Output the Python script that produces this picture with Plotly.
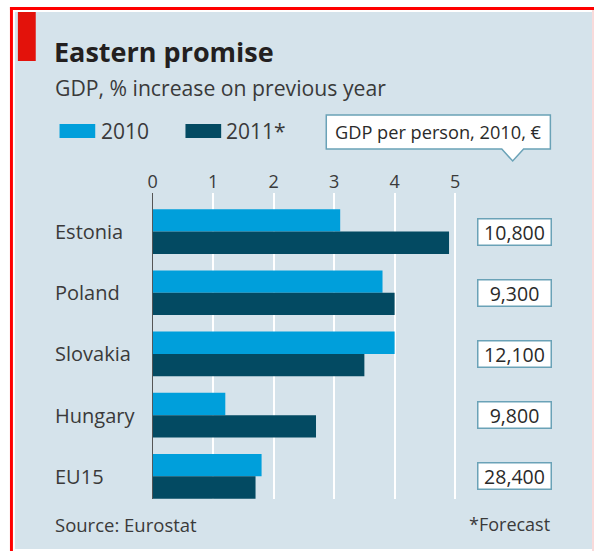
import plotly.graph_objects as go

W, H = 594, 551

countries = ["Estonia", "Poland", "Slovakia", "Hungary", "EU15"]
gdp_2010 = [3.1, 3.8, 4.0, 1.2, 1.8]
gdp_2011 = [4.9, 4.0, 3.5, 2.7, 1.7]
gdp_per_person = ["10,800", "9,300", "12,100", "9,800", "28,400"]
series_names = ["2010", "2011*"]
x_ticks = [0, 1, 2, 3, 4, 5]

title = "Eastern promise"
subtitle = "GDP, % increase on previous year"
callout = "GDP per person, 2010, €"
source = "Source: Eurostat"
note = "*Forecast"

C2010 = "#009fdb"
C2011 = "#034a62"
BG = "#d5e3eb"
TXT = "#3a3a3a"
BOX = "#6aa2b7"
FONT = "Open Sans"


def px(x):
    return x / W


def py(y):
    return 1 - y / H


fig = go.Figure()
fig.add_trace(go.Bar(y=countries, x=gdp_2010, name=series_names[0], orientation="h",
                     marker=dict(color=C2010, line=dict(width=0)), hoverinfo="x+y"))
fig.add_trace(go.Bar(y=countries, x=gdp_2011, name=series_names[1], orientation="h",
                     marker=dict(color=C2011, line=dict(width=0)), hoverinfo="x+y"))

shapes = []
# background panel
shapes.append(dict(type="rect", xref="paper", yref="paper", x0=px(10), x1=px(592), y0=py(549), y1=py(12),
                   fillcolor=BG, line=dict(width=0), layer="below"))
# red frame
shapes.append(dict(type="rect", xref="paper", yref="paper", x0=px(5), x1=px(594), y0=py(10), y1=py(7),
                   fillcolor="#ff0000", line=dict(width=0), layer="below"))
shapes.append(dict(type="rect", xref="paper", yref="paper", x0=px(5), x1=px(8), y0=py(551), y1=py(7),
                   fillcolor="#ff0000", line=dict(width=0), layer="below"))
shapes.append(dict(type="line", xref="paper", yref="paper", x0=px(593), x1=px(593), y0=py(551), y1=py(10),
                   line=dict(color="#f2b6b6", width=1), layer="below"))
# red tag
shapes.append(dict(type="rect", xref="paper", yref="paper", x0=px(13), x1=px(31), y0=py(61), y1=py(12),
                   fillcolor="#e3120b", line=dict(width=0), layer="below"))
# legend swatches
shapes.append(dict(type="rect", xref="paper", yref="paper", x0=px(55), x1=px(91), y0=py(138), y1=py(124),
                   fillcolor=C2010, line=dict(width=0)))
shapes.append(dict(type="rect", xref="paper", yref="paper", x0=px(182), x1=px(218), y0=py(138), y1=py(124),
                   fillcolor=C2011, line=dict(width=0)))
# callout box with pointer
pts = [(324, 115), (550, 115), (550, 149), (523, 149), (512, 161), (501, 149), (324, 149)]
path = "M " + " L ".join(f"{px(a):.5f},{py(b):.5f}" for a, b in pts) + " Z"
shapes.append(dict(type="path", xref="paper", yref="paper", path=path, fillcolor="white",
                   line=dict(color=BOX, width=1.5)))

annotations = []


def txt(text, x, y, size, anchor="left", bold=False, color=TXT, yref="paper", family=FONT):
    annotations.append(dict(text=f"<b>{text}</b>" if bold else text, x=px(x),
                            y=py(y) if yref == "paper" else y, xref="paper", yref=yref,
                            xanchor=anchor, yanchor="middle", showarrow=False,
                            font=dict(size=size, color=color, family=family)))


txt(title, 47, 51, 27, bold=True, color="#231f20")
txt(subtitle, 48, 87, 21.2)
txt(series_names[0], 95, 131, 21)
txt(series_names[1], 221, 131, 21)
txt(callout, 437, 132, 18.2, anchor="center", color="#2a2a2a")
txt(source, 48, 524, 18.5)
txt(note, 552, 524, 18, anchor="right")

for c, v in zip(countries, gdp_per_person):
    txt(c, 48, c, 20, yref="y")
    annotations.append(dict(text=v, x=px(513.5), y=c, xref="paper", yref="y", xanchor="center",
                            yanchor="middle", showarrow=False, width=72, height=25,
                            bgcolor="white", bordercolor=BOX, borderwidth=1.5, borderpad=0,
                            font=dict(size=19.5, color="#2a2a2a", family=FONT)))

fig.update_layout(
    width=W, height=H,
    margin=dict(l=0, r=0, t=0, b=0),
    paper_bgcolor="white",
    plot_bgcolor="rgba(0,0,0,0)",
    barmode="group", bargap=0.27, bargroupgap=0,
    showlegend=False,
    shapes=shapes,
    annotations=annotations,
    font=dict(family=FONT, color=TXT),
    xaxis=dict(domain=[px(149), px(460)], range=[0, 5.1], side="top",
               tickvals=x_ticks, ticktext=[str(t) for t in x_ticks],
               showgrid=True, gridcolor="white", gridwidth=2,
               zeroline=True, zerolinecolor="#555555", zerolinewidth=1,
               showline=False, ticks="", tickfont=dict(size=18, color=TXT, family=FONT),
               fixedrange=True),
    yaxis=dict(domain=[py(499), py(193)], range=[4.37, -0.63], type="category",
               showticklabels=False, showgrid=False, zeroline=False, showline=False, ticks="",
               fixedrange=True),
)

fig.write_html("out.html")
